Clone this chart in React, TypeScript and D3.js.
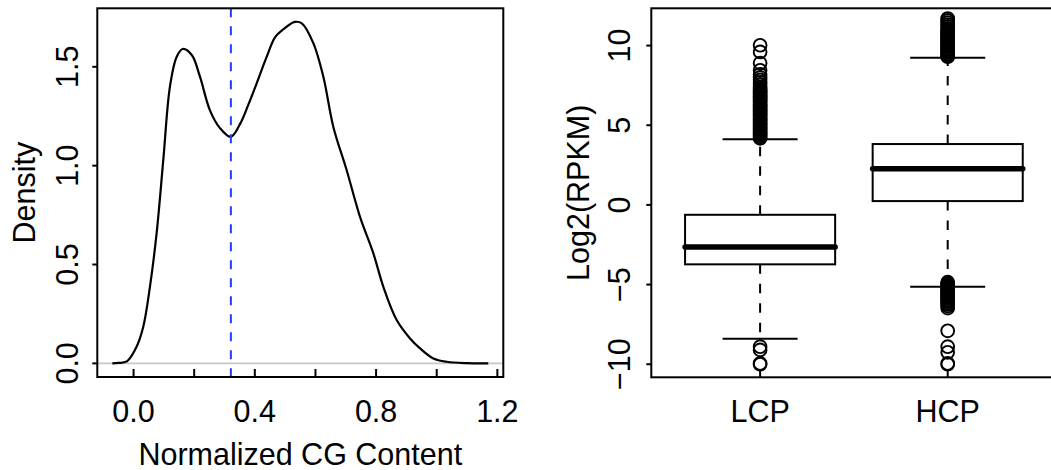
import React from "react";
import * as d3 from "d3";

// ---- Left panel: density of normalized CG content ----
const cgX = [-0.07, -0.05, -0.022, 0.01, 0.032, 0.054, 0.076, 0.098, 0.12, 0.142, 0.162, 0.192, 0.219, 0.252, 0.285, 0.321, 0.351, 0.379, 0.406, 0.439, 0.467, 0.494, 0.532, 0.555, 0.593, 0.626, 0.659, 0.703, 0.747, 0.791, 0.824, 0.868, 0.912, 0.945, 0.989, 1.033, 1.1, 1.17];
const cgDensity = [0.0, 0.002, 0.01, 0.084, 0.185, 0.387, 0.657, 1.028, 1.4, 1.55, 1.59, 1.56, 1.45, 1.28, 1.19, 1.146, 1.21, 1.31, 1.416, 1.55, 1.65, 1.69, 1.727, 1.72, 1.62, 1.45, 1.196, 0.977, 0.741, 0.556, 0.387, 0.219, 0.126, 0.076, 0.025, 0.008, 0.001, 0.0];
const cgCutoff = 0.321;
const densityXTicks = [0, 0.2, 0.4, 0.6, 0.8, 1.0, 1.2];
const densityXLabels = [0, 0.4, 0.8, 1.2];
const densityYTicks = [0, 0.5, 1.0, 1.5];

// ---- Right panel: boxplot of Log2(RPKM) ----
const groups = ["LCP", "HCP"];
const lowerWhisker = [-8.4, -5.13];
const q1 = [-3.73, 0.24];
const median = [-2.64, 2.27];
const q3 = [-0.62, 3.82];
const upperWhisker = [4.12, 9.24];
const lcpOutliers = [
  4.18, 4.26, 4.34, 4.42, 4.5, 4.58, 4.66, 4.74, 4.82, 4.9, 4.98, 5.06, 5.14, 5.22, 5.3, 5.38, 5.46, 5.54, 5.62, 5.7,
  5.78, 5.86, 5.94, 6.02, 6.1, 6.18, 6.26, 6.34, 6.42, 6.5, 6.58, 6.66, 6.74, 6.82, 6.9, 6.98, 7.06, 7.14, 7.22, 7.3,
  7.4, 7.55, 7.7, 7.85, 8.0, 8.2, 8.45, 8.9, 9.6, 10.02,
  -8.9, -9.1, -9.95, -10.0,
];
const hcpOutliers = [
  9.3, 9.38, 9.46, 9.54, 9.62, 9.7, 9.78, 9.86, 9.94, 10.02, 10.1, 10.18, 10.26, 10.34, 10.42, 10.5, 10.58, 10.66,
  10.74, 10.82, 10.9, 10.98, 11.08, 11.2, 11.32, 11.45, 11.58, 11.7,
  -4.85, -4.93, -5.01, -5.09, -5.17, -5.25, -5.33, -5.41, -5.49, -5.57, -5.65, -5.73, -5.81, -5.89, -5.97, -6.05,
  -6.15, -6.25, -6.35, -6.48, -7.9, -8.9, -9.25, -9.95, -10.0,
];
const outliers = [lcpOutliers, hcpOutliers];
const boxYTicks = [-10, -5, 0, 5, 10];

const FONT = "'Liberation Sans', Arial, Helvetica, sans-serif";
const FS = 30.5;

export default function App() {
  const L = { x0: 97.3, x1: 503.3, y0: 8.3, y1: 377 };
  const R = { x0: 651.3, x1: 1056.5, y0: 8.3, y1: 377.3 };

  const xD = d3.scaleLinear().domain([-0.1196, 1.2196]).range([L.x0, L.x1]);
  const yD = d3.scaleLinear().domain([-0.069, 1.796]).range([L.y1, L.y0]);

  const xB = d3.scaleLinear().domain([0.42, 2.58]).range([R.x0, R.x1]);
  const yB = d3.scaleLinear().domain([-10.82, 12.34]).range([R.y1, R.y0]);

  const line = d3
    .line<number>()
    .x((_, i) => xD(cgX[i]))
    .y((d) => yD(d))
    .curve(d3.curveCatmullRom.alpha(0.5));

  const boxHalf = 0.4;
  const stapleHalf = 0.2;

  return (
    <svg
      width={1051}
      height={470}
      style={{ position: "absolute", left: 0, top: 0, background: "#fff" }}
      fontFamily={FONT}
    >
      <rect x={0} y={0} width={1051} height={470} fill="#fff" />
      {/* ---------- LEFT PANEL ---------- */}
      <line x1={L.x0} x2={L.x1} y1={yD(0)} y2={yD(0)} stroke="#c8c8c8" strokeWidth={1.6} />
      <path d={line(cgDensity) || ""} fill="none" stroke="#000" strokeWidth={2.2} />
      <line
        x1={xD(cgCutoff)}
        x2={xD(cgCutoff)}
        y1={L.y0}
        y2={L.y1}
        stroke="#1f3cff"
        strokeWidth={2}
        strokeDasharray="9,9"
      />
      <rect x={L.x0} y={L.y0} width={L.x1 - L.x0} height={L.y1 - L.y0} fill="none" stroke="#000" strokeWidth={2} />
      {densityXTicks.map((t) => (
        <line key={"dxt" + t} x1={xD(t)} x2={xD(t)} y1={L.y1} y2={L.y1 - 8} stroke="#000" strokeWidth={2} />
      ))}
      {densityXLabels.map((t) => (
        <text key={"dxl" + t} x={xD(t)} y={422} fontSize={FS} textAnchor="middle">
          {t.toFixed(1)}
        </text>
      ))}
      {densityYTicks.map((t) => (
        <g key={"dyt" + t}>
          <line x1={L.x0 - 5} x2={L.x0} y1={yD(t)} y2={yD(t)} stroke="#000" strokeWidth={2} />
          <text
            transform={`translate(78,${yD(t)}) rotate(-90)`}
            fontSize={FS}
            textAnchor="middle"
          >
            {t.toFixed(1)}
          </text>
        </g>
      ))}
      <text x={(L.x0 + L.x1) / 2} y={465} fontSize={FS} textAnchor="middle">
        Normalized CG Content
      </text>
      <text
        transform={`translate(34.5,${(L.y0 + L.y1) / 2}) rotate(-90)`}
        fontSize={FS}
        textAnchor="middle"
      >
        Density
      </text>

      {/* ---------- RIGHT PANEL ---------- */}
      {groups.map((g, i) => {
        const cx = xB(i + 1);
        return (
          <g key={g}>
            <line x1={cx} x2={cx} y1={yB(q3[i])} y2={yB(upperWhisker[i])} stroke="#000" strokeWidth={2} strokeDasharray="9.5,10" />
            <line x1={cx} x2={cx} y1={yB(q1[i])} y2={yB(lowerWhisker[i])} stroke="#000" strokeWidth={2} strokeDasharray="9.5,10" />
            <line x1={xB(i + 1 - stapleHalf)} x2={xB(i + 1 + stapleHalf)} y1={yB(upperWhisker[i])} y2={yB(upperWhisker[i])} stroke="#000" strokeWidth={2} />
            <line x1={xB(i + 1 - stapleHalf)} x2={xB(i + 1 + stapleHalf)} y1={yB(lowerWhisker[i])} y2={yB(lowerWhisker[i])} stroke="#000" strokeWidth={2} />
            <rect
              x={xB(i + 1 - boxHalf)}
              y={yB(q3[i])}
              width={xB(i + 1 + boxHalf) - xB(i + 1 - boxHalf)}
              height={yB(q1[i]) - yB(q3[i])}
              fill="#fff"
              stroke="#000"
              strokeWidth={2}
            />
            <line
              x1={xB(i + 1 - boxHalf)}
              x2={xB(i + 1 + boxHalf)}
              y1={yB(median[i])}
              y2={yB(median[i])}
              stroke="#000"
              strokeWidth={5.5}
              strokeLinecap="round"
            />
            {outliers[i].map((v, k) => (
              <circle key={k} cx={cx} cy={yB(v)} r={6.4} fill="none" stroke="#000" strokeWidth={1.9} />
            ))}
            <line x1={cx} x2={cx} y1={R.y1} y2={R.y1 - 7} stroke="#000" strokeWidth={2} />
            <text x={cx} y={422} fontSize={FS} textAnchor="middle">
              {g}
            </text>
          </g>
        );
      })}
      <rect x={R.x0} y={R.y0} width={R.x1 - R.x0} height={R.y1 - R.y0} fill="none" stroke="#000" strokeWidth={2} />
      {boxYTicks.map((t) => (
        <g key={"byt" + t}>
          <line x1={R.x0 - 5} x2={R.x0} y1={yB(t)} y2={yB(t)} stroke="#000" strokeWidth={2} />
          <text
            transform={`translate(630,${yB(t)}) rotate(-90)`}
            fontSize={FS}
            textAnchor="middle"
          >
            {t < 0 ? "\u2212" + Math.abs(t) : String(t)}
          </text>
        </g>
      ))}
      <text
        transform={`translate(588.5,${(R.y0 + R.y1) / 2}) rotate(-90)`}
        fontSize={FS}
        textAnchor="middle"
      >
        Log2(RPKM)
      </text>
    </svg>
  );
}
